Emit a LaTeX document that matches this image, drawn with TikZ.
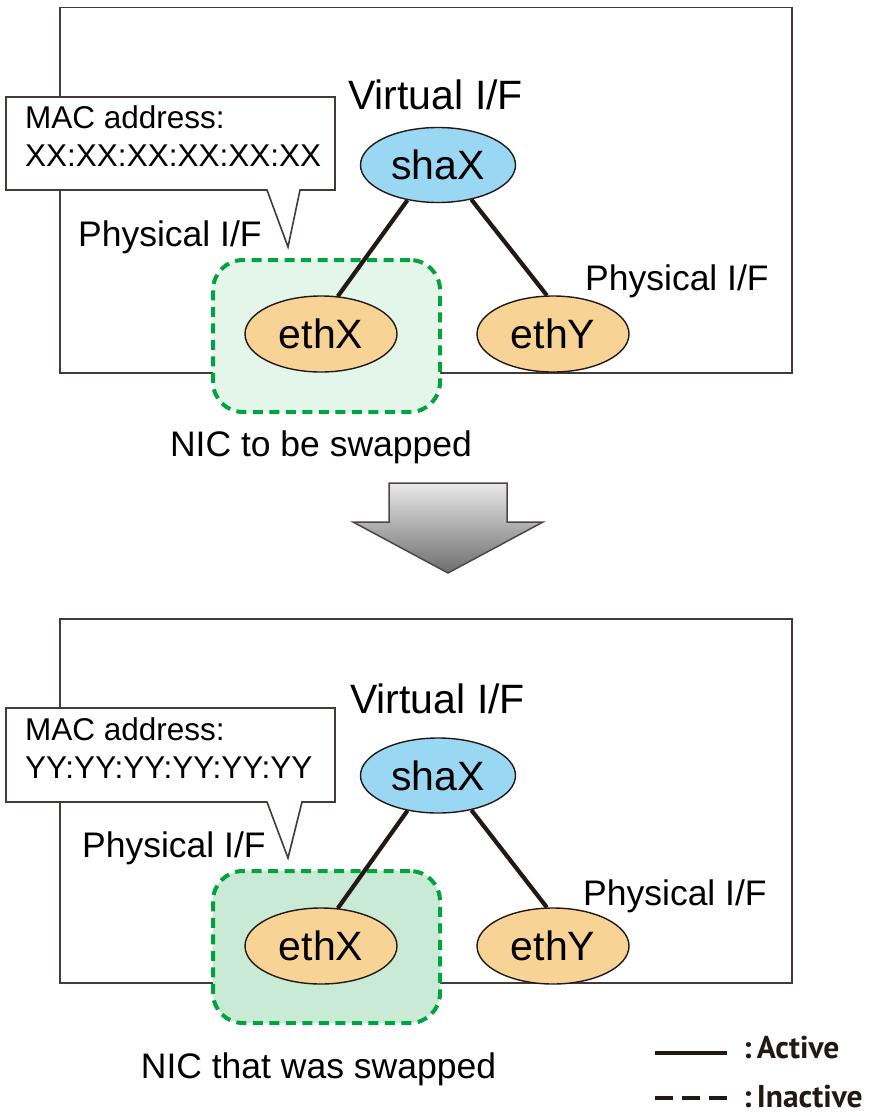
\documentclass[tikz,border=0pt]{standalone}
\usepackage{fontspec}
\setmainfont{Liberation Sans}
\newfontfamily\keyfont{PT Sans}
\usetikzlibrary{shapes.geometric}

\definecolor{virtblue}{RGB}{154,215,242}
\definecolor{physorange}{RGB}{248,211,150}
\definecolor{nicgreen}{RGB}{0,163,60}
\definecolor{nicfill}{RGB}{228,245,234}
\definecolor{nicfilldone}{RGB}{201,235,214}
\definecolor{ink}{RGB}{35,24,21}
\definecolor{arrowtop}{RGB}{232,232,232}
\definecolor{arrowbot}{RGB}{110,110,110}

\begin{document}
\begin{tikzpicture}[x=1pt,y=-1pt,
 frame/.style={draw=ink!85,line width=1.6pt},
 vif/.style={ellipse,draw=ink,line width=1.4pt,fill=virtblue,minimum width=155pt,minimum height=75pt,inner sep=0pt,font=\fontsize{41}{49}\selectfont},
 pif/.style={vif,fill=physorange,minimum width=152pt,minimum height=76pt},
 nic/.style={draw=nicgreen,line width=4pt,dash pattern=on 10pt off 6.5pt,rounded corners=30pt,minimum width=227pt,minimum height=152pt,inner sep=0pt},
 conn/.style={draw=ink,line width=4.2pt},
 lbl/.style={inner sep=0pt,font=\fontsize{35.5}{42}\selectfont},
 biglbl/.style={inner sep=0pt,font=\fontsize{41}{49}\selectfont},
 mac/.style={inner sep=0pt,align=left,font=\fontsize{31.5}{38}\selectfont},
 bubble/.style={draw=ink!85,line width=1.6pt,fill=white,line join=miter},
 key/.style={inner sep=0pt,text=ink,font=\keyfont\bfseries\fontsize{31.5}{36}\selectfont}]
\useasboundingbox (0,0) rectangle (872,1116);

% before the swap
\draw[frame] (60,7.5) rectangle (792,373);
\draw[bubble] (6,97) -- (335,97) -- (335,190) -- (300,190) -- (288,247) -- (267,190) -- (6,190) -- cycle;
\node[mac,anchor=north west] (mac1) at (25,105) {MAC address:\\XX:XX:XX:XX:XX:XX};
\node[nic,fill=nicfill] (nic1) at (326.5,336) {};
\node[vif] (sha1) at (438,165) {shaX};
\node[pif] (ethx1) at (321,334) {ethX};
\node[pif] (ethy1) at (553,334) {ethY};
\draw[conn] (sha1.229) -- (ethx1.66);
\draw[conn] (sha1.314) -- (ethy1.99);
\node[biglbl,anchor=base west] (virt1) at (348,109) {Virtual I/F};
\node[lbl,anchor=base west] (physa1) at (78,246) {Physical I/F};
\node[lbl,anchor=base west] (physb1) at (585,290) {Physical I/F};
\node[lbl,anchor=base] (cap1) at (321,456) {NIC to be swapped};

\path[draw=ink!80,line width=1.5pt,top color=arrowtop,bottom color=arrowbot]
 (389,483) -- (507,483) -- (507,522) -- (543,522) -- (448,573) -- (353,522) -- (389,522) -- cycle;

% after the swap
\draw[frame] (60,619) rectangle (792,983);
\draw[bubble] (6,708) -- (335,708) -- (335,802) -- (302,802) -- (288,858) -- (267,802) -- (6,802) -- cycle;
\node[mac,anchor=north west] (mac2) at (25,717) {MAC address:\\YY:YY:YY:YY:YY:YY};
\node[nic,fill=nicfilldone] (nic2) at (326.5,947) {};
\node[vif] (sha2) at (438,775.5) {shaX};
\node[pif] (ethx2) at (321,946) {ethX};
\node[pif] (ethy2) at (553,946) {ethY};
\draw[conn] (sha2.229) -- (ethx2.66);
\draw[conn] (sha2.314) -- (ethy2.99);
\node[biglbl,anchor=base west] (virt2) at (350,713) {Virtual I/F};
\node[lbl,anchor=base west] (physa2) at (82,857) {Physical I/F};
\node[lbl,anchor=base west] (physb2) at (583,905) {Physical I/F};
\node[lbl,anchor=base] (cap2) at (318.5,1078) {NIC that was swapped};

% legend
\coordinate (act0) at (655,1053);
\coordinate (act1) at (727,1053);
\coordinate (ina0) at (655,1098);
\coordinate (ina1) at (727,1098);
\draw[conn,line width=4.5pt] (act0) -- (act1);
\draw[conn,line width=4.5pt,dash pattern=on 18pt off 9pt] (ina0) -- (ina1);
\node[key,anchor=base west] (keyact) at (743,1058) {:\,Active};
\node[key,anchor=base west] (keyina) at (743,1107) {:\,Inactive};
\end{tikzpicture}
\end{document}
